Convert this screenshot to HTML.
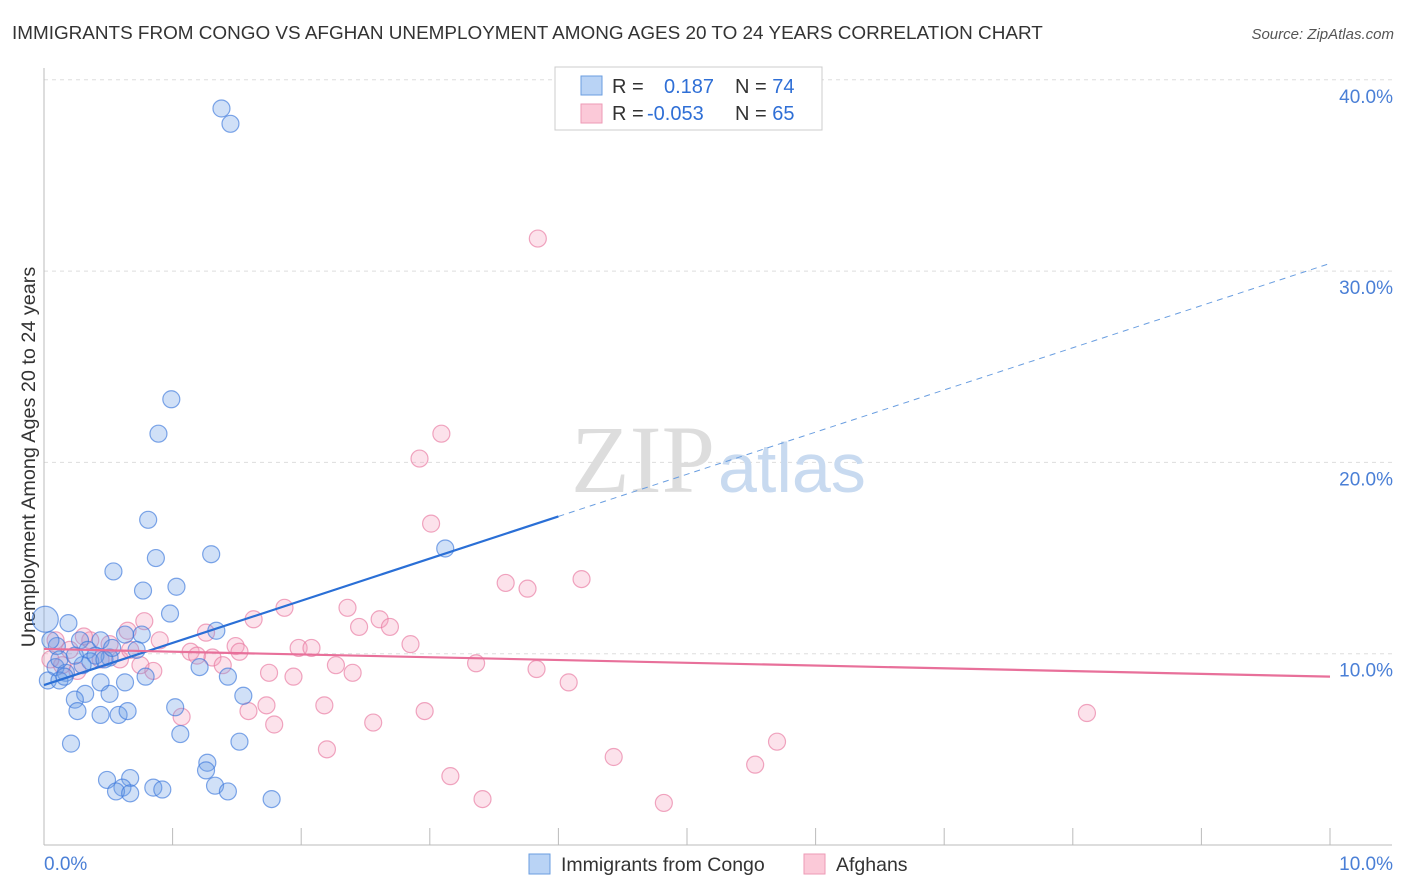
<!DOCTYPE html>
<html><head><meta charset="utf-8"><style>
body{margin:0;background:#fff;font-family:"Liberation Sans",sans-serif;}
svg{display:block}
</style></head><body>
<svg id="chart" width="1406" height="892">
<text x="12" y="39" font-size="18.9" fill="#333">IMMIGRANTS FROM CONGO VS AFGHAN UNEMPLOYMENT AMONG AGES 20 TO 24 YEARS CORRELATION CHART</text>
<text x="1394" y="39" font-size="15" fill="#555" font-style="italic" text-anchor="end">Source: ZipAtlas.com</text>
<text x="0" y="0" transform="translate(35,457) rotate(-90)" font-size="19.8" fill="#333" text-anchor="middle">Unemployment Among Ages 20 to 24 years</text>
<g id="grid"></g>
<text x="715" y="492" font-size="96" fill="#ddd" font-family="Liberation Serif,serif" text-anchor="end">ZIP</text>
<text x="718" y="492" font-size="70" fill="#c8daf0" text-anchor="start">atlas</text>
<g id="pts"></g>
<g id="lines"></g>
<g>
<rect x="555" y="67" width="267" height="63" fill="#fff" stroke="#ccc"/>
<rect x="581" y="76" width="21" height="19" fill="#b9d3f5" stroke="#6a9ee0"/>
<rect x="581" y="104" width="21" height="19" fill="#fbc9d8" stroke="#ee9ab6"/>
<text x="612" y="93" font-size="20" fill="#333">R = <tspan fill="#2f6fd6" x="664">0.187</tspan><tspan fill="#333" x="735">N = </tspan><tspan fill="#2f6fd6">74</tspan></text>
<text x="612" y="120" font-size="20" fill="#333">R = <tspan fill="#2f6fd6" x="647">-0.053</tspan><tspan fill="#333" x="735">N = </tspan><tspan fill="#2f6fd6">65</tspan></text>
</g>
<g>
<rect x="529" y="854" width="21" height="20" fill="#b9d3f5" stroke="#6a9ee0"/>
<text x="561" y="871" font-size="19.5" fill="#333">Immigrants from Congo</text>
<rect x="804" y="854" width="21" height="20" fill="#fbc9d8" stroke="#ee9ab6"/>
<text x="836" y="871" font-size="19.5" fill="#333">Afghans</text>
</g>
</svg>
<script>
const xTicks=[0,1,2,3,4,5,6,7,8,9,10];
const yTicks=[10,20,30,40];
const yTickLabels=["10.0%","20.0%","30.0%","40.0%"];
const xEndLabels=["0.0%","10.0%"];
const congoX=[1.38,1.45,0.99,0.89,0.81,0.87,1.30,3.12,0.54,0.77,1.03,0.98,0.76,1.34,0.19,0.28,0.44,0.63,0.10,0.34,0.09,0.17,0.03,0.12,0.36,0.51,0.72,0.44,0.32,0.51,0.63,0.79,1.02,1.21,1.43,1.55,0.24,0.26,0.44,0.58,0.65,1.06,0.21,1.52,1.27,1.26,0.49,0.67,0.61,0.56,0.67,0.85,0.92,1.33,1.43,1.77,0.01,0.05,0.40,0.12,0.30,0.47,0.16,0.53,0.24];
const congoY=[38.5,37.7,23.3,21.5,17.0,15.0,15.2,15.5,14.3,13.3,13.5,12.1,11.0,11.2,11.6,10.7,10.7,11.0,10.4,10.2,9.3,9.0,8.6,8.6,9.6,9.8,10.2,8.5,7.9,7.9,8.5,8.8,7.2,9.3,8.8,7.8,7.6,7.0,6.8,6.8,7.0,5.8,5.3,5.4,4.3,3.9,3.4,3.5,3.0,2.8,2.7,3.0,2.9,3.1,2.8,2.4,11.8,10.7,9.9,9.7,9.4,9.7,8.8,10.3,9.9];
const afgX=[3.84,3.09,2.92,3.01,4.18,3.59,3.76,2.36,2.61,1.87,1.63,0.78,2.45,2.69,1.26,1.49,1.52,1.98,2.08,2.85,0.90,1.14,1.19,1.31,1.39,0.85,2.27,2.40,3.36,3.83,4.08,1.75,1.94,1.73,1.59,1.07,2.18,1.79,2.56,2.96,8.11,5.70,2.20,4.43,5.53,3.16,3.41,4.82,0.09,0.20,0.36,0.59,0.67,0.44,0.14,0.26,0.51,0.05,0.65,0.31,0.75];
const afgY=[31.7,21.5,20.2,16.8,13.9,13.7,13.4,12.4,11.8,12.4,11.8,11.7,11.4,11.4,11.1,10.4,10.1,10.3,10.3,10.5,10.7,10.1,9.9,9.8,9.4,9.1,9.4,9.0,9.5,9.2,8.5,9.0,8.8,7.3,7.0,6.7,7.3,6.3,6.4,7.0,6.9,5.4,5.0,4.6,4.2,3.6,2.4,2.2,10.7,10.2,10.7,9.7,10.2,9.7,9.4,9.1,10.5,9.7,11.2,10.9,9.4];
const congoTrend=[8.36,30.4];
const afgTrend=[10.25,8.8];
const congoSolidEnd=4.0;
const NS="http://www.w3.org/2000/svg";
const sx=v=>44+v*128.6, sy=v=>845-v*19.13;
function mk(t,a,p){const e=document.createElementNS(NS,t);for(const k in a)e.setAttribute(k,a[k]);p.appendChild(e);return e;}
const grid=document.getElementById('grid');
yTicks.forEach((t,i)=>{
 const l=mk('line',{x1:44,x2:1392,y1:sy(t),y2:sy(t),stroke:'#ddd','stroke-dasharray':'4,4'},grid);
 
 
 const tx=mk('text',{x:1393,y:sy(t)+23,'font-size':19,fill:'#4a7fd6','text-anchor':'end'},grid);
 tx.textContent=yTickLabels[i];
 
 
});
const ax=mk('line',{x1:44,x2:1392,y1:845,y2:845,stroke:'#bbb'},grid);


const ay=mk('line',{x1:44,x2:44,y1:68,y2:845,stroke:'#bbb'},grid);


xTicks.forEach(t=>{
 const l=mk('line',{x1:sx(t),x2:sx(t),y1:828,y2:845,stroke:'#bbb'},grid);
 
 
});
[[0,'start',44],[10,'end',1393]].forEach((d,i)=>{
 const tx=mk('text',{x:d[2],y:870,'font-size':19,fill:'#4a7fd6','text-anchor':d[1]},grid);
 tx.textContent=xEndLabels[i];
 
 
});
const pts=document.getElementById('pts');
afgX.forEach((x,i)=>{
 const c=mk('circle',{cx:sx(x),cy:sy(afgY[i]),r:8.5,fill:'rgba(244,160,188,0.3)',stroke:'rgba(232,120,160,0.65)','stroke-width':1.2},pts);
 
 
});
congoX.forEach((x,i)=>{
 const c=mk('circle',{cx:sx(x),cy:sy(congoY[i]),r:i==56?13:8.5,fill:'rgba(110,160,230,0.32)',stroke:'rgba(60,120,220,0.65)','stroke-width':1.2},pts);
 
 
});
const lines=document.getElementById('lines');
const cy=x=>congoTrend[0]+(congoTrend[1]-congoTrend[0])*x/10;
const l1=mk('line',{x1:sx(0),y1:sy(cy(0)),x2:sx(congoSolidEnd),y2:sy(cy(congoSolidEnd)),stroke:'#2a6fd6','stroke-width':2.2},lines);


const l2=mk('line',{x1:sx(congoSolidEnd),y1:sy(cy(congoSolidEnd)),x2:sx(10),y2:sy(cy(10)),stroke:'#6a9ee0','stroke-width':1,'stroke-dasharray':'6,5'},lines);


const l3=mk('line',{x1:sx(0),y1:sy(afgTrend[0]),x2:sx(10),y2:sy(afgTrend[1]),stroke:'#e8709a','stroke-width':2.2},lines);


</script>
</body></html>
